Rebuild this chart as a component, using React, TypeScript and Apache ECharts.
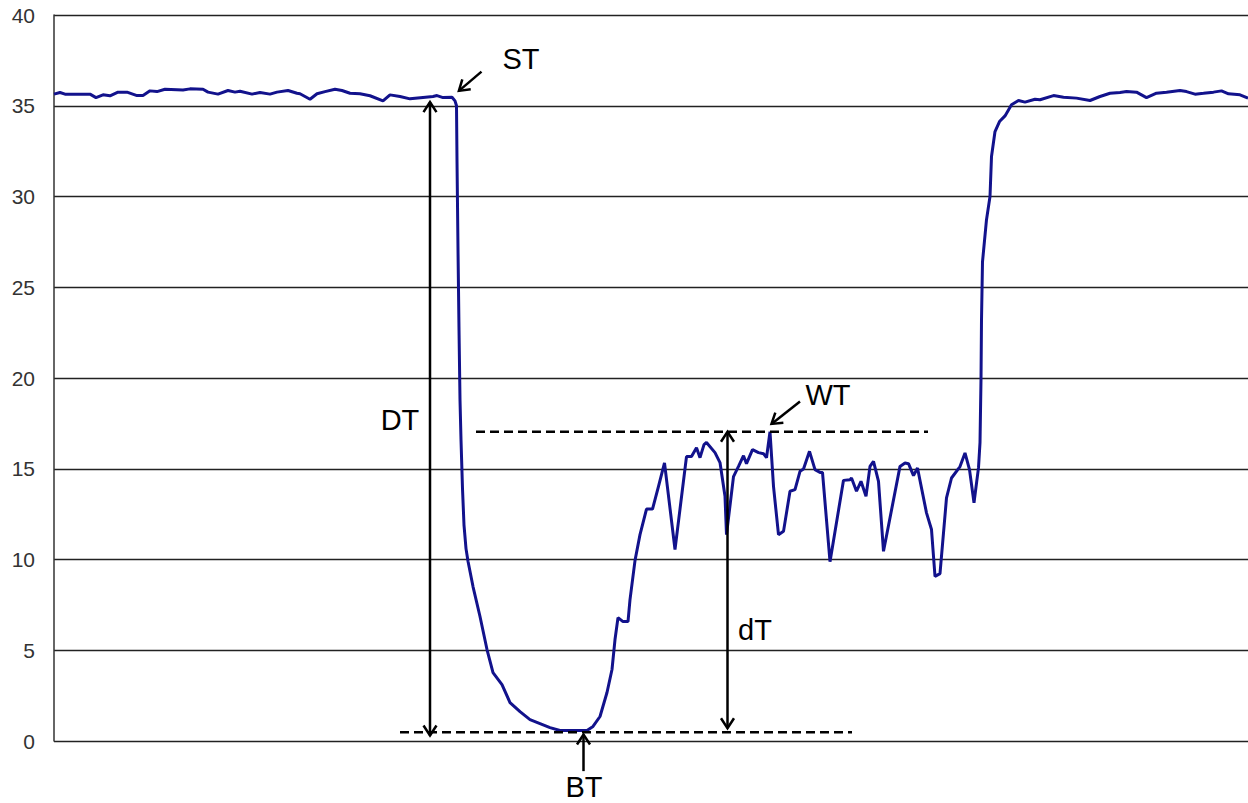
import React, { useEffect, useRef } from "react";
import * as echarts from "echarts";

// time index (arbitrary sample units) and temperature readings
const timeSteps: number[] = [
  0, 1.2, 2.2, 7.2, 8.4, 9.8, 11.2, 12.8, 14.6, 16.6, 17.8, 19.2, 20.6, 22.2, 25.8, 27.2, 29.8, 30.8, 32.8, 34.8,
  36.2, 37.2, 39.6, 41.2, 43.2, 44.6, 46.8, 48.6, 49.2, 51.2, 52.6, 54.2, 56.2, 57.6, 59.2, 61.2, 63.2, 65.8, 67.2,
  69.2, 71.2, 73.8, 75.8, 76.6, 77.8, 79.6, 80.2,
  80.5, 80.6, 80.8, 81.0, 81.2, 81.4, 81.7, 82.0, 82.4, 82.8, 83.8, 85.2, 86.6, 87.8, 89.6, 91.2, 93.2, 95.2, 97.2,
  99.2, 101.2, 106.6, 107.8, 109.2, 110.6, 111.6, 112.2, 112.8, 113.8, 114.8, 115.2, 116.2, 117.2, 118.5, 119.7,
  120.9, 122.1, 124.2, 126.5, 127.5, 128.5, 129.2, 130.0, 130.5, 132.2, 133.2, 134.2, 134.5, 135.9, 136.9, 137.9,
  138.5, 139.7, 140.9, 141.9, 142.5, 143.2, 143.9, 144.9, 145.9, 147.2, 148.2, 149.2, 149.9, 151.1, 152.2, 153.2,
  153.7, 155.2, 157.9, 159.2, 159.5, 160.5, 161.4, 162.4, 163.2, 163.9, 164.9, 165.9, 169.2, 170.2, 170.9, 171.9,
  172.7, 174.5, 175.5, 176.2, 177.2, 178.5, 179.5, 181.2, 182.2, 183.1, 184.0, 184.9, 185.2, 185.4, 185.5, 185.7,
  186.5, 187.2, 187.5, 188.2, 189.1, 190.2, 191.5, 192.9, 194.2, 196.2, 197.2, 199.9, 201.9, 204.5, 207.2, 209.2,
  211.2, 213.2, 214.5, 216.5, 218.5, 220.5, 222.5, 225.2, 226.5, 228.2, 229.9, 231.9, 233.5, 234.9, 237.2, 238.8,
];

const temperature: number[] = [
  35.64, 35.73, 35.64, 35.64, 35.45, 35.6, 35.55, 35.75, 35.75, 35.56, 35.56, 35.82, 35.78, 35.91, 35.87, 35.93, 35.91, 35.75, 35.64, 35.84,
  35.75, 35.8, 35.64, 35.73, 35.64, 35.75, 35.84, 35.69, 35.66, 35.36, 35.66, 35.78, 35.91, 35.84, 35.69, 35.66, 35.55, 35.27, 35.6,
  35.51, 35.38, 35.46, 35.51, 35.56, 35.45, 35.47, 35.27,
  35.0, 32.0, 27.1, 22.7, 18.8, 16.6, 13.9, 11.9, 10.6, 9.9, 8.51, 6.86, 5.04, 3.77, 3.11, 2.12, 1.62, 1.18, 0.96,
  0.74, 0.58, 0.58, 0.8, 1.35, 2.67, 3.94, 5.59, 6.8, 6.58, 6.58, 7.79, 9.94, 11.37, 12.78, 12.78,
  14.03, 15.32, 10.55, 15.67, 15.67, 16.16, 15.61, 16.33, 16.45, 15.89, 15.34, 13.48, 11.37, 14.57, 15.13, 15.72,
  15.28, 16.05, 15.89, 15.83, 15.61, 17.04, 14.03, 11.37, 11.55, 13.76, 13.85, 14.86, 14.99, 15.96, 14.95, 14.8,
  14.8, 9.88, 14.36, 14.4, 14.49, 13.76, 14.31, 13.48, 15.13, 15.41, 14.31, 10.45, 15.13, 15.32, 15.28, 14.62,
  15.04, 12.57, 11.65, 9.07, 9.22, 13.39, 14.49, 15.12, 15.87, 14.95, 13.13, 15.06, 16.44, 19.91, 23.21, 26.4,
  28.72, 30.0, 32.2, 33.58, 34.13, 34.44, 35.05, 35.29, 35.2, 35.36, 35.33, 35.56, 35.47, 35.42, 35.29, 35.51,
  35.69, 35.73, 35.78, 35.75, 35.45, 35.69, 35.75, 35.84, 35.78, 35.64, 35.69, 35.75, 35.82, 35.66, 35.6, 35.42,
];

const yMin = 0;
const yMax = 40;
const yInterval = 5;
const xMax = 238.8;

// annotation anchors in data units
const labelTexts = ["ST", "DT", "WT", "dT", "BT"];
const labelAnchors: [number, number][] = [
  [93.4, 37.55],
  [69.2, 17.7],
  [154.8, 19.08],
  [140.2, 6.14],
  [106.0, -2.55],
];
const dashedLevels = [0.48, 17.04];
const dashedFrom = [69.2, 84.4];
const dashedTo = [159.6, 174.8];
const doubleArrowX = [75.2, 134.7];
const doubleArrowTop = [35.2, 17.04];
const doubleArrowBottom = [0.3, 0.7];
const pointerTails: [number, number][] = [
  [85.5, 36.88],
  [149.2, 18.71],
  [105.9, -1.66],
];
const pointerTips: [number, number][] = [
  [80.98, 35.82],
  [143.5, 17.47],
  [105.9, 0.36],
];

function arrowHead(tip: number[], tail: number[], len = 10, half = 6.5) {
  const dx = tip[0] - tail[0];
  const dy = tip[1] - tail[1];
  const d = Math.hypot(dx, dy) || 1;
  const ux = dx / d;
  const uy = dy / d;
  const nx = -uy;
  const ny = ux;
  const bx = tip[0] - ux * len;
  const by = tip[1] - uy * len;
  return [
    [bx + nx * half, by + ny * half],
    [tip[0], tip[1]],
    [bx - nx * half, by - ny * half],
  ];
}

export default function App() {
  const ref = useRef<HTMLDivElement>(null);

  useEffect(() => {
    if (!ref.current) return;
    const chart = echarts.init(ref.current, undefined, { renderer: "svg" });
    chart.setOption({
      animation: false,
      backgroundColor: "#ffffff",
      grid: { left: 54, right: 0, top: 15, bottom: 62 },
      xAxis: {
        type: "value",
        min: 0,
        max: xMax,
        axisLine: { show: false },
        axisTick: { show: false },
        axisLabel: { show: false },
        splitLine: { show: false },
      },
      yAxis: {
        type: "value",
        min: yMin,
        max: yMax,
        interval: yInterval,
        axisLine: { show: true, lineStyle: { color: "#333", width: 1.5 } },
        axisTick: { show: false },
        axisLabel: {
          color: "#333",
          fontSize: 21,
          fontFamily: "Liberation Sans",
          margin: 19,
        },
        splitLine: { show: true, lineStyle: { color: "#222", width: 1.4 } },
      },
      series: [
        {
          type: "line",
          data: timeSteps.map((t, i) => [t, temperature[i]]),
          showSymbol: false,
          lineStyle: { color: "#12128c", width: 3 },
          z: 3,
        },
      ],
    });

    const px = (p: number[]) => chart.convertToPixel({ gridIndex: 0 }, p) as number[];
    const stroke = { stroke: "#000", lineWidth: 2.5, fill: null as any };
    const graphics: any[] = [];

    dashedLevels.forEach((lv, i) => {
      const a = px([dashedFrom[i], lv]);
      const b = px([dashedTo[i], lv]);
      graphics.push({
        type: "line",
        shape: { x1: a[0], y1: a[1], x2: b[0], y2: b[1] },
        style: { stroke: "#000", lineWidth: 2.5, lineDash: [9, 5] },
        z: 10,
      });
    });

    doubleArrowX.forEach((x, i) => {
      const top = px([x, doubleArrowTop[i]]);
      const bot = px([x, doubleArrowBottom[i]]);
      graphics.push({
        type: "line",
        shape: { x1: top[0], y1: top[1], x2: bot[0], y2: bot[1] },
        style: { stroke: "#000", lineWidth: 2.5 },
        z: 10,
      });
      graphics.push({ type: "polyline", shape: { points: arrowHead(top, bot) }, style: stroke, z: 10 });
      graphics.push({ type: "polyline", shape: { points: arrowHead(bot, top) }, style: stroke, z: 10 });
    });

    pointerTails.forEach((tl, i) => {
      const a = px(tl);
      const b = px(pointerTips[i]);
      graphics.push({
        type: "line",
        shape: { x1: a[0], y1: a[1], x2: b[0], y2: b[1] },
        style: { stroke: "#000", lineWidth: 2.5 },
        z: 10,
      });
      graphics.push({ type: "polyline", shape: { points: arrowHead(b, a) }, style: stroke, z: 10 });
    });

    labelTexts.forEach((txt, i) => {
      const p = px(labelAnchors[i]);
      graphics.push({
        type: "text",
        x: p[0],
        y: p[1],
        style: {
          text: txt,
          fill: "#000",
          fontSize: 29,
          fontFamily: "Liberation Sans",
          align: "center",
          verticalAlign: "middle",
        },
        z: 11,
      });
    });

    chart.setOption({ graphic: graphics });

    return () => chart.dispose();
  }, []);

  return (
    <div
      ref={ref}
      style={{ position: "fixed", left: 0, top: 0, width: 1248, height: 803, background: "#fff" }}
    />
  );
}
